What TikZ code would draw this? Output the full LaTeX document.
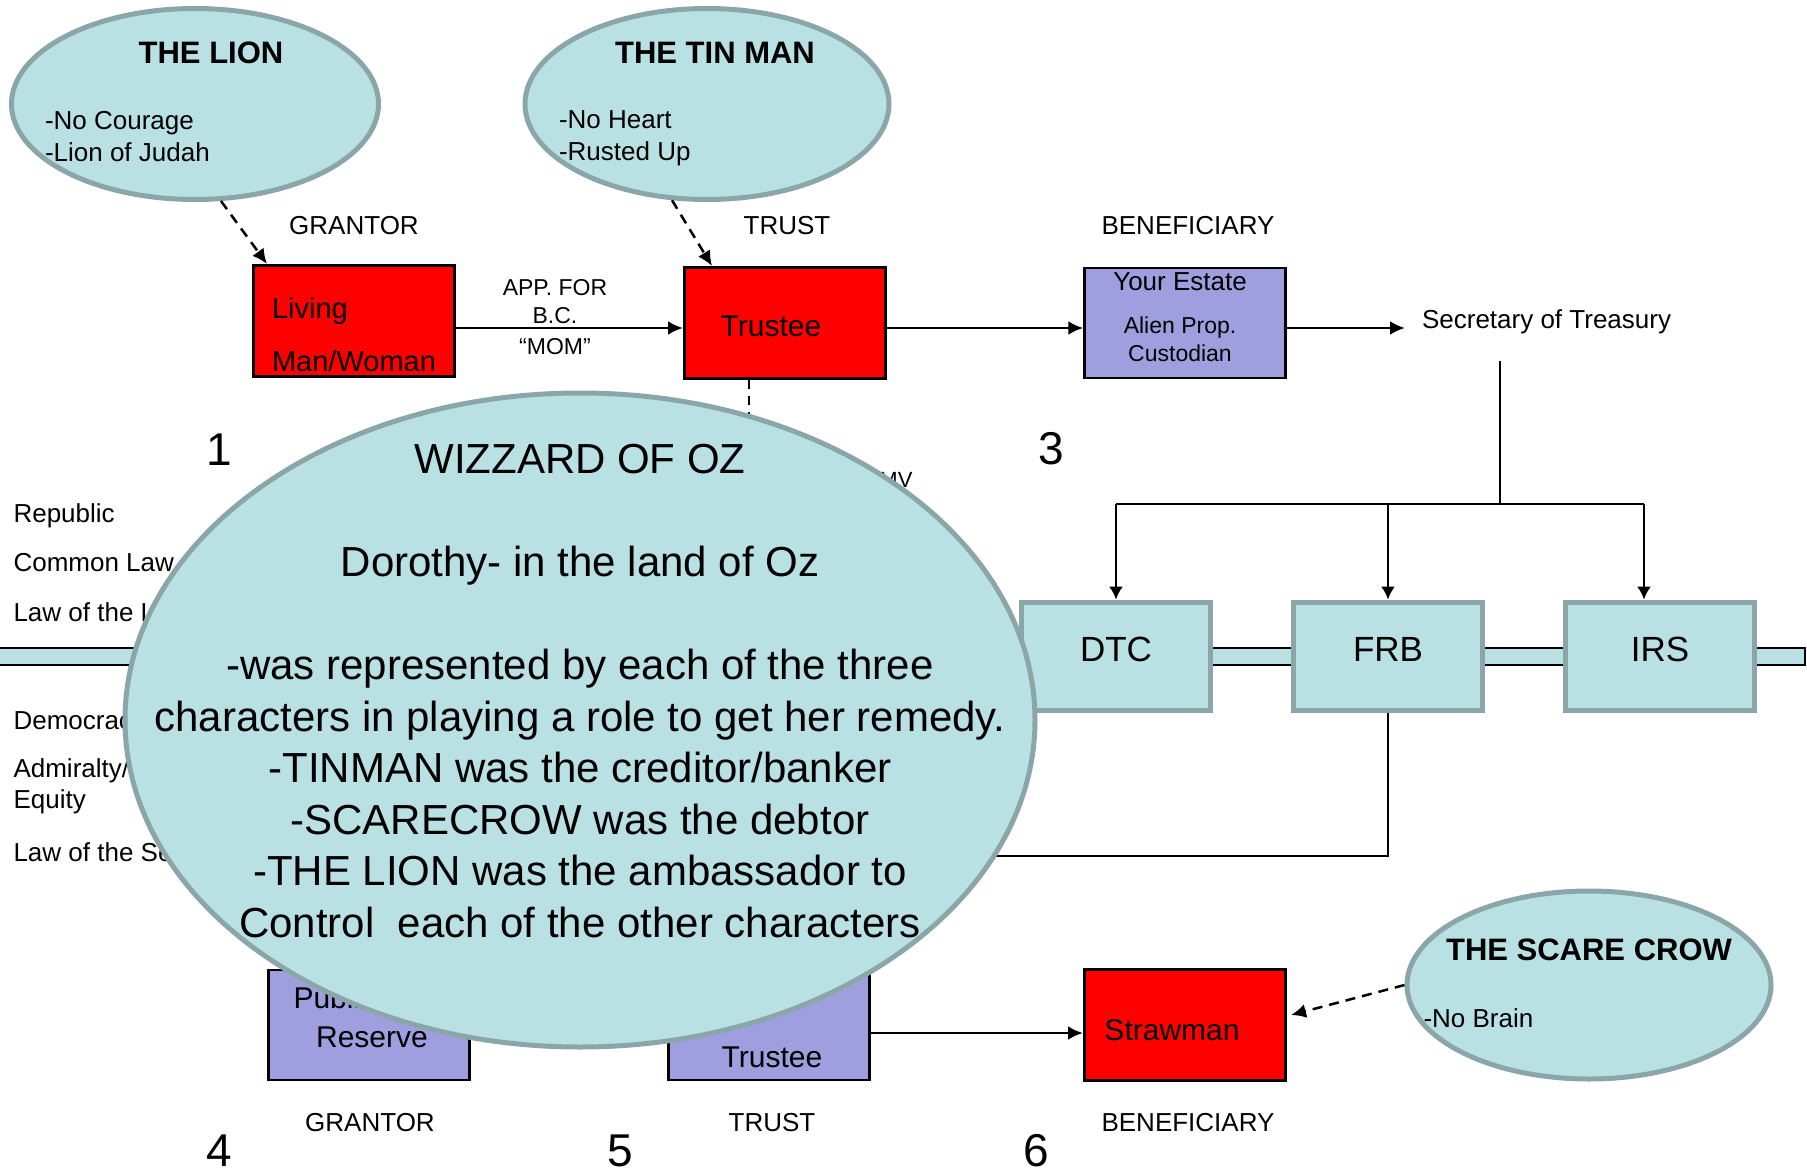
\documentclass[tikz,border=0pt]{standalone}
\usepackage{fontspec}
\setmainfont{Liberation Sans}
\usetikzlibrary{arrows.meta,calc,shapes.geometric}

\definecolor{ozblue}{RGB}{185,224,227}
\definecolor{ozedge}{RGB}{138,166,169}
\definecolor{ozpurple}{RGB}{159,159,223}

\begin{document}
\begin{tikzpicture}[x=1pt, y=-1pt, >={Latex[length=15pt,width=14pt]}, line join=miter,
		lbl/.style={font=\fontsize{26}{31}\selectfont},
		small/.style={font=\fontsize{23}{28}\selectfont},
		big/.style={font=\fontsize{46}{50}\selectfont, inner sep=0pt},
		head/.style={font=\bfseries\fontsize{31}{36}\selectfont},
		redbox/.style={draw=black, line width=3pt, fill=red, minimum width=201pt, minimum height=111pt, inner sep=0pt, font=\fontsize{30}{36}\selectfont},
		purplebox/.style={draw=black, line width=2.5pt, fill=ozpurple, minimum width=201pt, minimum height=110pt, inner sep=0pt, font=\fontsize{30}{36}\selectfont},
		bluebox/.style={draw=ozedge, line width=5pt, fill=ozblue, minimum width=189pt, minimum height=108pt, inner sep=0pt, text depth=14pt, font=\fontsize{35}{40}\selectfont},
		oval/.style={ellipse, draw=ozedge, line width=5pt, fill=ozblue, inner sep=0pt},
		arr/.style={->, line width=2.8pt},
		tree/.style={line width=2pt},
		treearr/.style={-{Latex[length=13pt,width=14pt]}, line width=2pt},
		dasharr/.style={->, dash pattern=on 10pt off 7pt, line width=2.5pt}]
		
		\useasboundingbox (0,0) rectangle (1807,1172);
		
		% band with the three boxes
		\fill[ozblue] (0,648) rectangle (1805,665);
		\draw[line width=2.5pt] (0,648) -| (1805,665) -- (0,665);
		\node[bluebox] (dtc) at (1116,656) {DTC};
		\node[bluebox] (frb) at (1388,656) {FRB};
		\node[bluebox] (irs) at (1660,656) {IRS};
		
		% tree from the treasury
		\coordinate (split) at (1500,361);
		\coordinate (fork) at (1500,504);
		\coordinate (irsin) at ($(irs.north)+(-16,0)$);
		\draw[tree] (split) -- (fork);
		\draw[tree] (dtc.north |- fork) -- (irsin |- fork);
		\draw[treearr] (dtc.north |- fork) -- (dtc.north);
		\draw[treearr] (frb.north |- fork) -- (frb.north);
		\draw[treearr] (irsin |- fork) -- (irsin);
		
		% line back from FRB
		\coordinate (frbend) at (900,856);
		\draw[tree] (frb.south) |- (frbend);
		
		% left column
		\node[lbl, anchor=west] (republic) at (10,516) {Republic};
		\node[lbl, anchor=west] (comlaw) at (10,563) {Common Law};
		\node[lbl, anchor=west] (landlaw) at (10,612) {Law of the Land};
		\node[lbl, anchor=west] (democ) at (10,723) {Democracy};
		\node[lbl, anchor=west, align=left] (admir) at (10,786) {Admiralty/\\Equity};
		\node[lbl, anchor=west] (sealaw) at (10,852) {Law of the Sea};
		
		% bits behind the big oval
		\coordinate (trdrop) at (749,450);
		\draw[dash pattern=on 9pt off 7pt, line width=2pt] (trdrop |- 0,380) -- (trdrop);
		\node[small, anchor=east, font=\fontsize{22}{26}\selectfont] (mv) at (916,480) {MV};
		\node[purplebox] (pubres) at (369,1025) {};
		\node[anchor=west, font=\fontsize{30}{36}\selectfont] (pubtop) at (290,998) {Public};
		\node[font=\fontsize{30}{36}\selectfont] (pubbot) at (372,1037) {Reserve};
		\node[purplebox] (trusteeB) at (769,1025) {};
		\node[font=\fontsize{30}{36}\selectfont] (trusteeBtxt) at (772,1057) {Trustee};
		
		% the big oval
		\node[oval, minimum width=910pt, minimum height=654pt] (oz) at (580,720) {};
		\node[align=center, font=\fontsize{42}{51.5}\selectfont] (oztext) at (580,691) {WIZZARD OF OZ\\[51.5pt]Dorothy- in the land of Oz\\[51.5pt]-was represented by each of the three\\characters in playing a role to get her remedy.\\-TINMAN was the creditor/banker\\-SCARECROW was the debtor\\-THE LION was the ambassador to\\Control~ each of the other characters};
		
		% top ovals
		\node[oval, minimum width=367pt, minimum height=191pt] (lion) at (195,104) {};
		\node[head] (liontitle) at (211,53) {THE LION};
		\node[lbl, anchor=west, align=left, font=\fontsize{26}{32}\selectfont] (lionbody) at (41.5,137) {-No Courage\\-Lion of Judah};
		\node[oval, minimum width=364pt, minimum height=191pt] (tinman) at (707,104) {};
		\node[head] (tintitle) at (715,53) {THE TIN MAN};
		\node[lbl, anchor=west, align=left, font=\fontsize{26}{32}\selectfont] (tinbody) at (555.5,138.5) {-No Heart\\-Rusted Up};
		
		% top row
		\node[lbl] (grantorA) at (354,226) {GRANTOR};
		\node[lbl] (trustA) at (787,226) {TRUST};
		\node[lbl] (benefA) at (1188,226) {BENEFICIARY};
		\node[redbox, align=left, font=\fontsize{29}{53}\selectfont] (living) at (354,321) {\rule{0pt}{49pt}Living\\Man/Woman};
		\node[redbox] (trusteeA) at (785,323) {\rule{0pt}{28pt}Trustee\kern28pt};
		\node[purplebox, align=center, font=\fontsize{23}{28}\selectfont] (estate) at (1185,323) {{\fontsize{26}{30}\selectfont Your Estate}\kern10pt\\[15pt]Alien Prop.\kern10pt\\Custodian\kern10pt\rule[-12pt]{0pt}{12pt}};
		\node[lbl, anchor=west] (sec) at (1418.5,322) {Secretary of Treasury};
		\node[small, align=center] (appfor) at (555,302) {APP. FOR\\B.C.};
		\node[small] (mom) at (555,347) {“MOM”};
		
		\draw[arr] ([yshift=-7pt]living.east) -- ([yshift=-5pt]trusteeA.west);
		\draw[arr] ([yshift=-5pt]trusteeA.east) -- ([yshift=-5pt]estate.west);
		\draw[arr, shorten >=13.5pt] ([yshift=-5pt]estate.east) -- ([yshift=-6pt]sec.west);
		\draw[dasharr] (lion.-75) -- ($(living.north west)+(15,0)$);
		\draw[dasharr] (tinman.-110) -- ($(trusteeA.north west)+(29,0)$);
		
		% bottom row
		\node[redbox] (straw) at (1185,1025) {\rule{0pt}{31pt}Strawman\kern26pt};
		\node[lbl] (grantorB) at (370,1123) {GRANTOR};
		\node[lbl] (trustB) at (772,1123) {TRUST};
		\node[lbl] (benefB) at (1188,1123) {BENEFICIARY};
		\draw[arr] ([yshift=-8pt]trusteeB.east) -- ([yshift=-8pt]straw.west);
		
		% scare crow
		\node[oval, minimum width=364pt, minimum height=188pt] (scare) at (1589,985) {};
		\node[head] (scaretitle) at (1589,950) {THE SCARE CROW};
		\node[lbl, anchor=west] (scarebody) at (1420,1018) {-No Brain};
		\draw[dasharr] (scare.west) -- ($(straw.east)+(4,-10)$);
		
		% numbers
		\node[big] (one) at (219,450) {1};
		\node[big] (three) at (1051,449) {3};
		\node[big] (four) at (219,1151) {4};
		\node[big] (five) at (620,1151) {5};
		\node[big] (six) at (1036,1151) {6};
		
	\end{tikzpicture}
\end{document}
